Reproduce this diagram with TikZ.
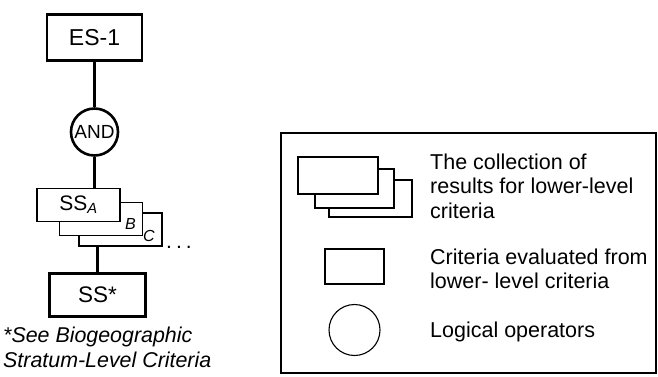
\documentclass[tikz,border=0pt]{standalone}
\usepackage{fontspec}
\setmainfont{Liberation Sans}
\usepackage{tikz}
\usetikzlibrary{positioning, calc}

\begin{document}
\begin{tikzpicture}[
    x=1pt, y=-1pt,
    critbox/.style={draw, line width=2.6pt, fill=white, inner sep=0pt},
    stackbox/.style={draw, line width=1.8pt, fill=white, minimum width=83pt, minimum height=33pt, inner sep=0pt},
    opnode/.style={circle, draw, line width=2.6pt, fill=white, minimum size=47pt, inner sep=0pt, font=\fontsize{19}{22}\selectfont},
    link/.style={line width=2.6pt},
    legbox/.style={draw, line width=1.1pt, fill=white, inner sep=0pt},
    legtext/.style={anchor=west, align=left, inner sep=0pt, font=\fontsize{21.5}{24.5}\selectfont},
    tag/.style={inner sep=0pt, font=\fontsize{16}{18}\selectfont\itshape}
]
    \useasboundingbox (0,0) rectangle (658,376);

    % criteria tree
    \node[critbox, minimum width=95pt, minimum height=46pt, font=\fontsize{23}{26}\selectfont] (es) at (94.5,37.5) {ES-1};
    \node[opnode] (and) at (94.5,132) {AND};
    \node[stackbox] (ssc) at (120.5,229.5) {};
    \node[stackbox] (ssb) at (101,219) {};
    \node[stackbox, font=\fontsize{21}{24}\selectfont] (ssa) at (78.5,205) {SS\textsubscript{\itshape A}};
    \node[tag] (tagb) at (130.5,223.5) {B};
    \node[tag] (tagc) at (149,236) {C};
    \node[anchor=base west, inner sep=0pt, font=\fontsize{21}{24}\selectfont] (dots) at (166,248) {.\hspace{4pt}.\hspace{4pt}.};
    \node[critbox, minimum width=96pt, minimum height=43pt, font=\fontsize{22.5}{26}\selectfont] (ssstar) at (97.5,295) {SS*};

    \draw[link] (es) -- (and);
    \draw[link] (and) -- (and.south |- ssa.north);
    \draw[link] (ssstar.north |- ssc.south) -- (ssstar);

    \node[anchor=west, align=left, inner sep=0pt, font=\fontsize{21.4}{25}\selectfont\itshape] (note) at (3,347.5) {*See Biogeographic\\Stratum-Level Criteria};

    % legend
    \node[draw, line width=1.2pt, minimum width=375pt, minimum height=240pt, inner sep=0pt] (legend) at (468.5,253) {};
    \node[legbox, minimum width=83pt, minimum height=37pt] (lega3) at (370.5,198.5) {};
    \node[legbox, minimum width=79pt, minimum height=39pt] (lega2) at (354.5,188.5) {};
    \node[legbox, minimum width=80pt, minimum height=37pt] (lega1) at (338,175.5) {};
    \node[legbox, minimum width=59pt, minimum height=35pt] (legb) at (354.5,266.5) {};
    \node[legbox, circle, minimum size=51pt] (legc) at (354.5,330) {};

    \node[legtext] (texta) at (430,186) {The collection of\\results for lower-level\\criteria};
    \node[legtext] (textb) at (430,269) {Criteria evaluated from\\lower- level criteria};
    \node[legtext] (textc) at (430,331.5) {Logical operators};
\end{tikzpicture}
\end{document}
